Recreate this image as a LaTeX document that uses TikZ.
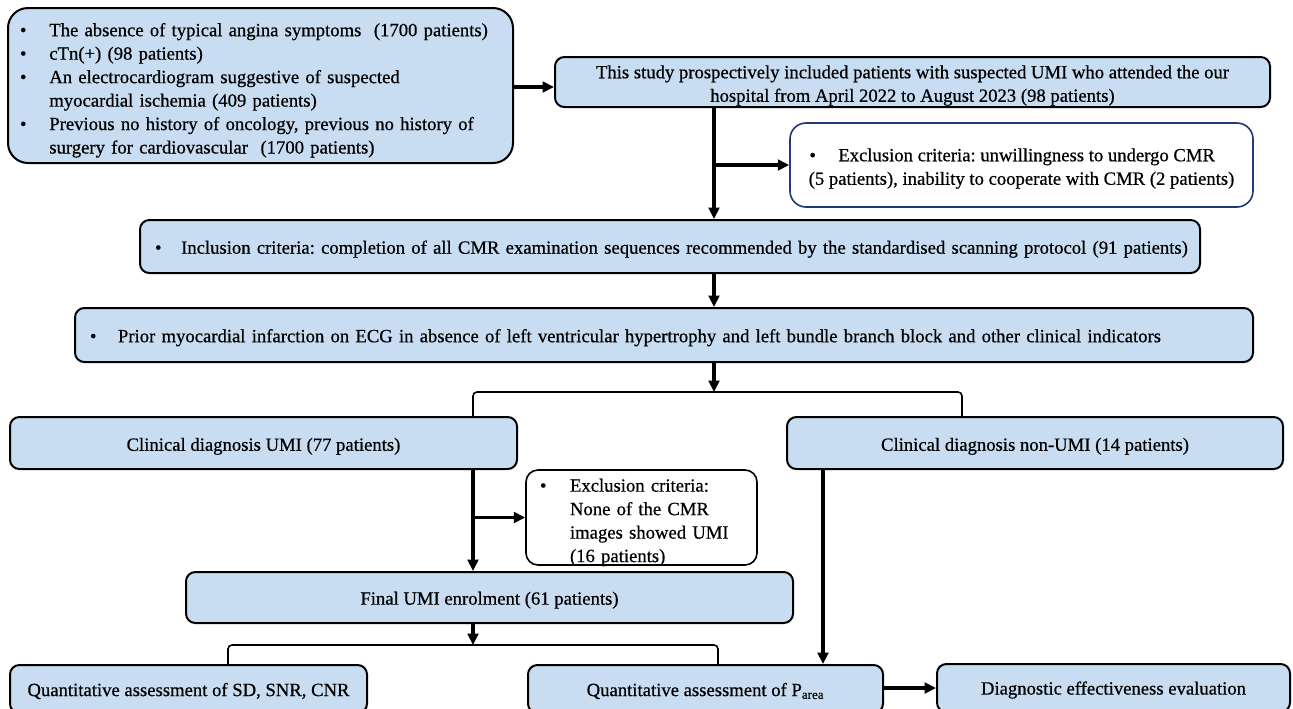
\documentclass[tikz,border=0pt]{standalone}
\usepackage{fontspec}
\setmainfont{Liberation Serif}[FakeBold=0.6]
\usetikzlibrary{arrows.meta}
\definecolor{boxblue}{RGB}{200,221,241}
\definecolor{navy}{RGB}{31,56,120}
\frenchspacing
\newcommand\bx[7][]{\node[#1, minimum width={(#4-#2)*0.75pt}, minimum height={(#5-#3)*0.75pt}] (#6) at ({(#2+#4)/2},{(#3+#5)/2}) {#7};}
\newcommand\dn[2]{\raisebox{-#1}[\height][\depth]{#2}}
\begin{document}
\begin{tikzpicture}[x=0.75pt,y=-0.75pt,
  font=\fontsize{14}{17.6}\selectfont,
  bluebox/.style={draw=black, line width=1.5pt, fill=boxblue, rounded corners=7pt, inner sep=0pt},
  whitebox/.style={draw=black, line width=1.2pt, fill=white, rounded corners=9pt, inner sep=0pt},
  arr/.style={line width=2.3pt, -{Triangle[length=8.5pt,width=8pt]}},
  brk/.style={line width=1.2pt, rounded corners=3pt}]
\clip (0,0) rectangle (1293,708);
\useasboundingbox (0,0) rectangle (1293,708);

% boxes
\bx[bluebox, rounded corners=15pt, text width={(505-24)*0.75pt}, align=left]{8}{8}{513}{163}{A}{\dn{3.5pt}{%
\begin{tabular}{@{}p{22pt}@{}l@{}}
\textbullet & The absence of typical angina symptoms\ \ (1700 patients)\\
\textbullet & cTn(+) (98 patients)\\
\textbullet & An electrocardiogram suggestive of suspected\\
 & myocardial ischemia (409 patients)\\
\textbullet & Previous no history of oncology, previous no history of\\
 & surgery for cardiovascular\ \ (1700 patients)
\end{tabular}}}
\bx[bluebox]{555}{57}{1270}{107}{B}{\dn{2.5pt}{\begin{tabular}{@{}c@{}}This study prospectively included patients with suspected UMI who attended the our\\hospital from April 2022 to August 2023 (98 patients)\end{tabular}}}
\bx[whitebox, draw=navy, rounded corners=12pt]{790}{123}{1253}{207}{E}{\dn{2.5pt}{\begin{tabular}{@{}c@{}}\textbullet\hspace{1.2em}Exclusion criteria: unwillingness to undergo CMR\kern14pt\\(5 patients), inability to cooperate with CMR (2 patients)\end{tabular}}}
\bx[bluebox, text width={(1060-30)*0.75pt}, align=left]{140}{220}{1200}{273}{C}{\dn{2pt}{\textbullet\hspace{1.05em}Inclusion criteria: completion of all CMR examination sequences recommended by the standardised scanning protocol (91 patients)}}
\bx[bluebox, text width={(1178-30)*0.75pt}, align=left]{75}{308}{1253}{362}{D}{\dn{2pt}{\textbullet\hspace{1.15em}Prior myocardial infarction on ECG in absence of left ventricular hypertrophy and left bundle branch block and other clinical indicators}}
\bx[bluebox]{10}{417}{517}{469}{F}{\dn{2.5pt}{Clinical diagnosis UMI (77 patients)}}
\bx[bluebox]{787}{417}{1283}{469}{G}{\dn{2.5pt}{Clinical diagnosis non-UMI (14 patients)}}
\bx[whitebox, text width={(231-28)*0.75pt}, align=left]{526}{470}{757}{565}{I}{\dn{3.5pt}{%
\begin{tabular}{@{}p{22.5pt}@{}l@{}}
\textbullet & Exclusion criteria:\\
 & None of the CMR\\
 & images showed UMI\\
 & (16 patients)
\end{tabular}}}
\bx[bluebox]{186}{572}{793}{623}{H}{\dn{2pt}{Final UMI enrolment (61 patients)}}
\bx[bluebox]{10}{665}{367}{713}{J}{\dn{1.5pt}{Quantitative assessment of SD, SNR, CNR}}
\bx[bluebox]{528}{665}{883}{713}{K}{\dn{1.5pt}{Quantitative assessment of P\textsubscript{area}}}
\bx[bluebox]{937}{664}{1290}{712}{L}{\dn{1.5pt}{Diagnostic effectiveness evaluation}}

% guide coordinates for vertical trunks
\coordinate (t1) at (714,0);
\coordinate (t2) at (473,0);
\coordinate (t3) at (823,0);
\coordinate (b1) at (714,392);
\coordinate (b2) at (473,645);

% connectors
\draw[arr] (A.east |- 0,87) -- (B.west |- 0,87);
\draw[arr] (t1 |- B.south) -- (t1 |- C.north);
\draw[arr] (t1 |- E.west) -- (E.west);
\draw[arr] (t1 |- C.south) -- (t1 |- D.north);
\draw[arr] (t1 |- D.south) -- (b1);
\draw[brk] (473,0 |- F.north) -- (473,392) -- (962,392) -- (962,0 |- G.north);
\draw[arr] (t2 |- F.south) -- (t2 |- H.north);
\draw[arr] (t2 |- I.west) -- (I.west);
\draw[arr] (t2 |- H.south) -- (b2);
\draw[brk] (228,0 |- J.north) -- (228,645) -- (718,645) -- (718,0 |- K.north);
\draw[arr] (t3 |- G.south) -- (t3 |- K.north);
\draw[arr] (K.east |- 0,688) -- (L.west |- 0,688);
\end{tikzpicture}
\end{document}
